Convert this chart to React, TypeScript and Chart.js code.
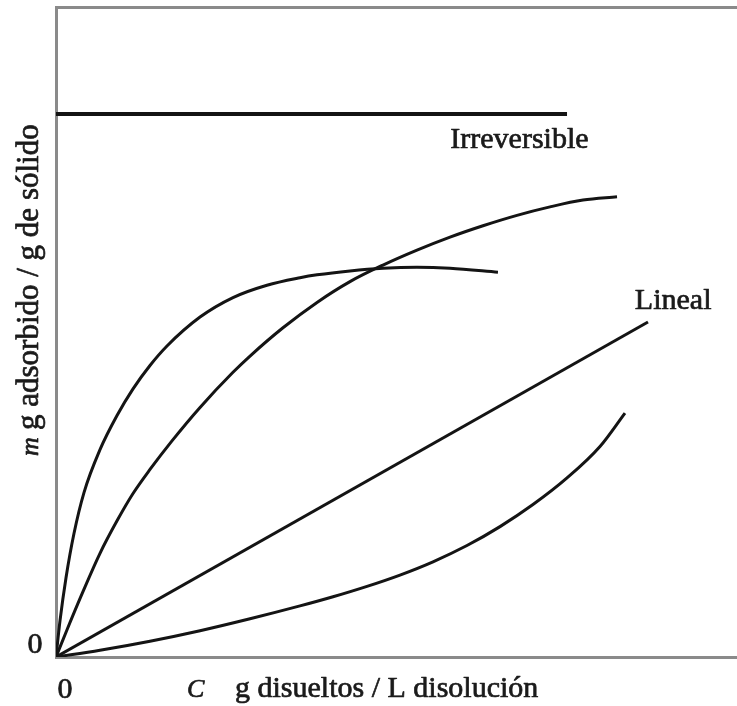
import React, { useEffect, useRef } from "react";
import { Chart, registerables } from "chart.js";

Chart.register(...registerables);

// Data (arbitrary units, x: concentration C, y: adsorbed m)
const langmuirX = [0, 0.59, 1.47, 2.64, 4.11, 6.46, 8.96, 11.31, 13.8, 16.3, 21.15, 25.99, 30.98, 35.83, 38.33, 43.17, 48.02, 53.01, 57.86, 64.9];
const langmuirY = [0, 5.6, 12.2, 19.0, 25.3, 31.9, 37.15, 41.25, 44.85, 47.85, 52.3, 55.3, 57.2, 58.35, 58.8, 59.4, 59.8, 59.95, 59.8, 59.2];

const freundlichX = [0, 1.62, 3.96, 6.46, 8.96, 11.31, 13.8, 17.03, 21.15, 25.99, 28.49, 33.33, 38.33, 43.17, 48.02, 53.01, 57.86, 62.7, 67.69, 72.54, 77.39, 82.38];
const freundlichY = [0, 4.2, 10.05, 15.95, 20.95, 25.15, 28.85, 33.25, 38.4, 43.8, 46.3, 50.65, 54.55, 57.75, 60.3, 62.6, 64.6, 66.35, 67.95, 69.25, 70.3, 70.8];

const linealX = [0, 86.93];
const linealY = [0, 51.54];

const convexX = [0, 6.46, 13.8, 21.15, 28.49, 35.83, 40.68, 45.67, 50.51, 55.36, 60.35, 65.2, 70.04, 75.04, 79.88, 83.55];
const convexY = [0, 1.03, 2.42, 4.04, 5.88, 7.86, 9.27, 10.87, 12.61, 14.65, 17.15, 20.06, 23.45, 27.55, 32.39, 37.53];

const irreversibleX = [0, 75.04];
const irreversibleY = [83.54, 83.54];

const curveLabels = ["Irreversible", "Lineal"];
const xTickLabel = "0";
const yTickLabel = "0";
const xTitleSymbol = "C";
const xTitleText = "g disueltos / L disolución";
const yTitleSymbol = "m";
const yTitleText = "g adsorbido / g de sólido";

const toPoints = (xs: number[], ys: number[]) => xs.map((x, i) => ({ x, y: ys[i] }));

const LINE = "#141414";
const AXIS = "#8a8a8a";
const SERIF = '"Liberation Serif", "DejaVu Serif", serif';

const drawText = (ctx: CanvasRenderingContext2D, t: string, x: number, y: number) => {
  ctx.strokeText(t, x, y);
  ctx.fillText(t, x, y);
};

const textPlugin = {
  id: "annotText",
  afterDraw(chart: any) {
    const ctx = chart.ctx as CanvasRenderingContext2D;
    const xs = chart.scales.x;
    const ys = chart.scales.y;
    const px = (v: number) => xs.getPixelForValue(v);
    const py = (v: number) => ys.getPixelForValue(v);
    ctx.save();
    ctx.fillStyle = "#1a1a1a";
    ctx.strokeStyle = "#1a1a1a";
    ctx.lineWidth = 0.7;
    ctx.lineJoin = "round";
    ctx.textBaseline = "alphabetic";
    ctx.textAlign = "left";
    ctx.font = `30px ${SERIF}`;
    // curve labels
    drawText(ctx, curveLabels[0], px(57.9), py(78.3));
    drawText(ctx, curveLabels[1], px(85.0), py(53.5));
    // tick zeros
    ctx.textAlign = "center";
    drawText(ctx, xTickLabel, px(0) + 9, py(0) + 41);
    drawText(ctx, yTickLabel, px(0) - 21, py(0) - 4);
    // x title
    ctx.textAlign = "left";
    ctx.font = `italic 26px ${SERIF}`;
    drawText(ctx, xTitleSymbol, 187, py(0) + 40);
    ctx.font = `30px ${SERIF}`;
    drawText(ctx, xTitleText, 235, py(0) + 40);
    // y title (rotated)
    ctx.save();
    ctx.translate(38, 0);
    ctx.rotate(-Math.PI / 2);
    ctx.font = `italic 26px ${SERIF}`;
    drawText(ctx, yTitleSymbol, -456, 0);
    ctx.font = `31px ${SERIF}`;
    drawText(ctx, yTitleText, -430, 0);
    ctx.restore();
    ctx.restore();
  },
};

const zeroH = (s: any) => { s.height = 0; };
const zeroW = (s: any) => { s.width = 0; };

export default function App() {
  const ref = useRef<HTMLCanvasElement | null>(null);
  useEffect(() => {
    if (!ref.current) return;
    const common = {
      borderColor: LINE,
      borderWidth: 3,
      pointRadius: 0,
      fill: false,
      cubicInterpolationMode: "monotone" as const,
    };
    const chart = new Chart(ref.current, {
      type: "line",
      data: {
        datasets: [
          { ...common, label: "Irreversible", data: toPoints(irreversibleX, irreversibleY), borderWidth: 4 },
          { ...common, label: "Langmuir", data: toPoints(langmuirX, langmuirY) },
          { ...common, label: "Freundlich", data: toPoints(freundlichX, freundlichY) },
          { ...common, label: "Lineal", data: toPoints(linealX, linealY) },
          { ...common, label: "Convexa", data: toPoints(convexX, convexY) },
        ],
      },
      options: {
        animation: false,
        responsive: false,
        layout: { padding: { left: 56, right: 0, top: 7, bottom: 49 } },
        plugins: { legend: { display: false }, tooltip: { enabled: false } },
        scales: {
          x: {
            type: "linear",
            min: 0,
            max: 100,
            ticks: { display: false },
            grid: { display: false },
            border: { display: true, color: AXIS, width: 3 },
            afterFit: zeroH,
          },
          xTop: {
            type: "linear",
            position: "top",
            min: 0,
            max: 100,
            ticks: { display: false },
            grid: { display: false },
            border: { display: true, color: AXIS, width: 3 },
            afterFit: zeroH,
          },
          y: {
            type: "linear",
            min: 0,
            max: 100,
            ticks: { display: false },
            grid: { display: false },
            border: { display: true, color: AXIS, width: 3 },
            afterFit: zeroW,
          },
        },
      },
      plugins: [textPlugin],
    });
    return () => chart.destroy();
  }, []);
  return (
    <div style={{ position: "fixed", left: 0, top: 0, width: 737, height: 706, background: "#fff" }}>
      <canvas ref={ref} width={737} height={706} style={{ display: "block" }} />
    </div>
  );
}
